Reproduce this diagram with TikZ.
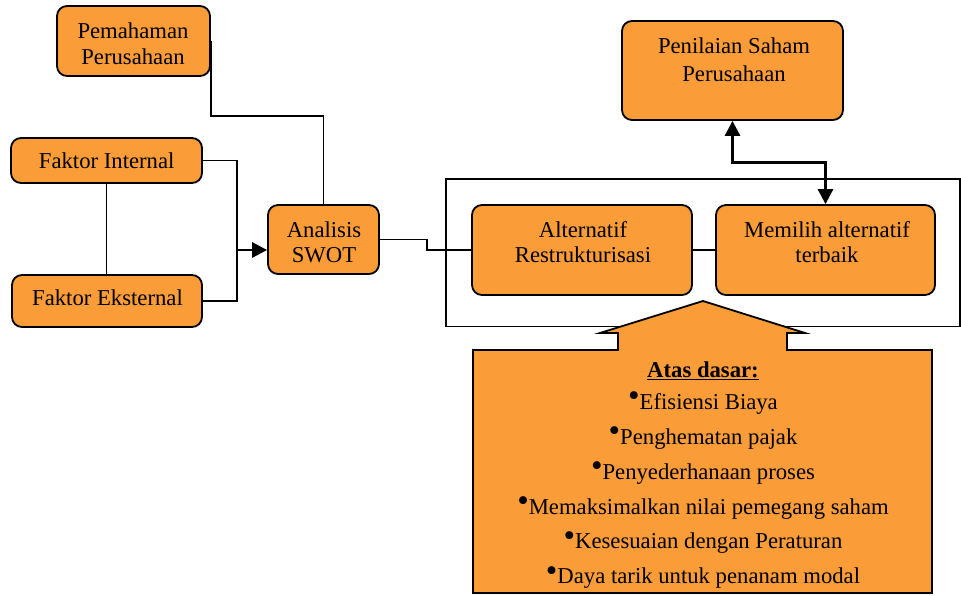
\documentclass[tikz,border=0pt]{standalone}
\usepackage{fontspec}
\setmainfont{Liberation Serif}
\usetikzlibrary{arrows.meta,calc}
\definecolor{boxorange}{RGB}{250,156,56}
\newcommand{\mybul}{\raisebox{2.5pt}{\scalebox{1.45}{\textbullet}}}
\begin{document}
\begin{tikzpicture}[x=1pt,y=-1pt,
  font=\fontsize{22.7}{26}\selectfont,
  box/.style={draw=black, line width=1.8pt, fill=boxorange, rounded corners=10pt, inner sep=0pt},
  txt/.style={anchor=base, inner sep=0pt},
  thinline/.style={line width=1.3pt},
  thickline/.style={line width=2.8pt},
  tipend/.style={-{Triangle[length=15pt,width=15pt]}},
  tipboth/.style={{Triangle[length=15pt,width=15pt]}-{Triangle[length=15pt,width=15pt]}},
  bul/.style={txt}
]
\useasboundingbox (0,0) rectangle (961,595);

% outer frame around the two alternative boxes
\draw[line width=1.5pt] (446,179) rectangle (960,326.5);

% boxes
\node[box, minimum width=153pt, minimum height=70pt] (pem) at (133.5,41) {};
\node[box, minimum width=191pt, minimum height=45pt] (int) at (106.5,160.5) {};
\node[box, minimum width=190pt, minimum height=52pt] (ext) at (107,301) {};
\node[box, minimum width=111pt, minimum height=69pt] (swot) at (323.5,239.5) {};
\node[box, minimum width=220pt, minimum height=90pt] (alt) at (582,250) {};
\node[box, minimum width=219pt, minimum height=90pt] (mem) at (825.5,250) {};
\node[box, minimum width=221pt, minimum height=99pt] (pen) at (732.5,70.5) {};

% box texts
\node[txt] (pemA) at (133,38) {Pemahaman};
\node[txt] (pemB) at (133,64) {Perusahaan};
\node[txt] (intA) at (106.7,168) {Faktor Internal};
\node[txt] (extA) at (107.5,305) {Faktor Eksternal};
\node[txt] (swotA) at (324,237) {Analisis};
\node[txt] (swotB) at (324,262) {SWOT};
\node[txt] (altA) at (583,237) {Alternatif};
\node[txt] (altB) at (583,262) {Restrukturisasi};
\node[txt] (memA) at (827,237) {Memilih alternatif};
\node[txt] (memB) at (827,262) {terbaik};
\node[txt] (penA) at (734,53) {Penilaian Saham};
\node[txt] (penB) at (734,81) {Perusahaan};

% connectors
\coordinate (jn) at (237,250);
\draw[thinline] (pem.east) |- ($(swot.north)+(0,-88)$) -- (swot.north);
\draw[thinline] (int.east) -| (jn);
\draw[thinline] (int.south) -- (int.south |- ext.north);
\draw[thickline, tipend] (ext.east) -| (jn) -- (swot.west |- jn);
\draw[thinline] (swot.east) -- ++(47,0) |- (alt.west);
\draw[thinline] (alt.east) -- (mem.west);
\draw[thickline, tipboth] (pen.south) |- ($(mem.north)+(0,-42)$) -- (mem.north);

% big block arrow
\filldraw[fill=boxorange, draw=black, line width=1.8pt]
  (473,350) -- (618,350) -- (618,333) -- (600,333) -- (703,301) -- (805,333)
  -- (787,333) -- (787,350) -- (932,350) -- (932,593) -- (473,593) -- cycle;

\node[txt] (atas) at (703,377) {\textbf{\underline{Atas dasar:}}};
\node[bul] (b1) at (703,409) {\mybul Efisiensi Biaya};
\node[bul] (b2) at (703,444) {\mybul Penghematan pajak};
\node[bul] (b3) at (703,479) {\mybul Penyederhanaan proses};
\node[bul] (b4) at (703,514) {\mybul Memaksimalkan nilai pemegang saham};
\node[bul] (b5) at (703,548.5) {\mybul Kesesuaian dengan Peraturan};
\node[bul] (b6) at (703,583.5) {\mybul Daya tarik untuk penanam modal};
\end{tikzpicture}
\end{document}
